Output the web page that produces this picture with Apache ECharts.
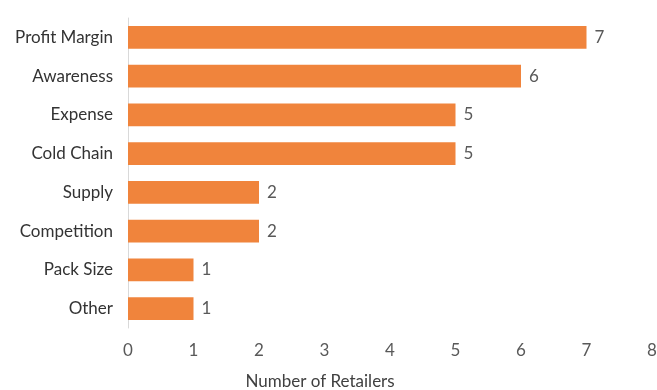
<!DOCTYPE html>
<html>
<head>
<meta charset="utf-8">
<script src="https://cdn.jsdelivr.net/npm/echarts@6/dist/echarts.min.js"></script>
<style>
  html, body { margin: 0; padding: 0; background: #fff; }
  #chart { width: 657px; height: 390px; }
</style>
</head>
<body>
<div id="chart"></div>
<script>
// Reasons cited by retailers, listed top to bottom
const categories = ['Profit Margin', 'Awareness', 'Expense', 'Cold Chain', 'Supply', 'Competition', 'Pack Size', 'Other'];
const retailerCounts = [7, 6, 5, 5, 2, 2, 1, 1];
const xTicks = [0, 1, 2, 3, 4, 5, 6, 7, 8];

const chart = echarts.init(document.getElementById('chart'), null, { renderer: 'canvas' });
const fontFamily = 'Lato, Open Sans, sans-serif';
const fontSize = 17;

chart.setOption({
  animation: false,
  grid: { left: 128, right: 5, top: 18, bottom: 62, containLabel: false, outerBoundsMode: 'none' },
  xAxis: {
    type: 'value',
    min: xTicks[0],
    max: xTicks[xTicks.length - 1],
    interval: 1,
    name: 'Number of Retailers',
    nameLocation: 'middle',
    nameGap: 45,
    nameTextStyle: { color: '#404040', fontSize, fontFamily, padding: [0, 140, 0, 0] },
    axisLine: { show: false },
    axisTick: { show: false },
    splitLine: { show: false },
    axisLabel: { color: '#595959', fontSize, fontFamily, margin: 14 }
  },
  yAxis: {
    type: 'category',
    data: categories,
    inverse: true,
    axisLine: { show: true, lineStyle: { color: '#d9d9d9', width: 1 } },
    axisTick: { show: false },
    axisLabel: { color: '#333333', fontSize, fontFamily, margin: 15 }
  },
  series: [{
    type: 'bar',
    data: retailerCounts,
    barCategoryGap: '41%',
    itemStyle: { color: '#F0843C' },
    label: {
      show: true,
      position: 'right',
      distance: 8,
      color: '#595959',
      fontSize,
      fontFamily
    }
  }]
});
</script>
</body>
</html>
